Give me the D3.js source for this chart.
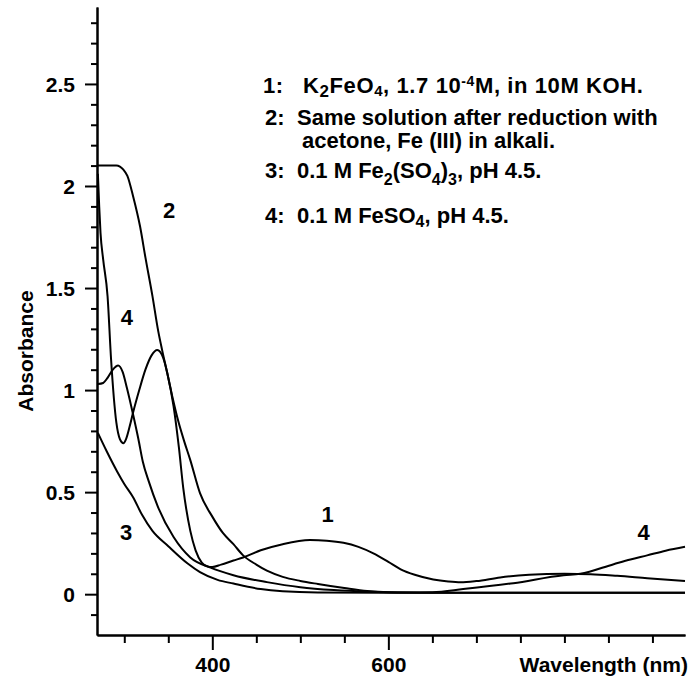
<!DOCTYPE html>
<html>
<head>
<meta charset="utf-8">
<script src="https://cdn.jsdelivr.net/npm/d3@7"></script>
<style>
  body { margin: 0; background: #fff; }
  svg text { font-family: "Liberation Sans", Arial, Helvetica, sans-serif; font-weight: bold; fill: #000; }
</style>
</head>
<body>
<svg id="chart" width="692" height="677"></svg>
<script>
// absorbance spectra, [wavelength nm, absorbance]
const k2feo4 = [
  [270, 2.06], [271.5, 1.9], [273, 1.77], [276, 1.64], [281, 1.46], [285, 1.15],
  [291, 0.84], [295, 0.76], [299, 0.74], [302, 0.76], [306, 0.82], [310, 0.89],
  [317, 1.0], [324, 1.1], [331, 1.17], [337.5, 1.196], [344, 1.16], [349, 1.08],
  [356, 0.92], [362, 0.72], [367, 0.52], [375, 0.31], [381, 0.215], [388, 0.155],
  [395, 0.135], [400, 0.133], [410, 0.145], [424, 0.165], [435, 0.18], [455, 0.215],
  [480, 0.245], [511, 0.265], [530, 0.262], [549, 0.252], [566, 0.232], [583, 0.2],
  [600, 0.158], [614, 0.122], [630, 0.095], [651, 0.072], [668, 0.062], [682, 0.058],
  [700, 0.064], [727, 0.082], [760, 0.095], [800, 0.1], [830, 0.098], [860, 0.09],
  [894, 0.078], [937, 0.064]
]
const fe3Alkali = [
  [270, 2.1], [291, 2.1], [295, 2.095], [299, 2.08], [303.5, 2.05], [310, 1.95],
  [318, 1.8], [324, 1.65], [332, 1.46], [338.5, 1.29], [343, 1.196], [349, 1.08],
  [355, 0.96], [361, 0.853], [368, 0.75], [375, 0.657], [386, 0.495], [400, 0.38],
  [412, 0.3], [424, 0.245], [435, 0.19], [450, 0.145], [462, 0.115], [480, 0.085],
  [500, 0.065], [520, 0.05], [550, 0.03], [576, 0.015], [600, 0.009], [650, 0.007],
  [937, 0.007]
]
const fe2so43 = [
  [270, 0.79], [280, 0.7], [292, 0.6], [300, 0.54], [310, 0.475], [320, 0.39],
  [332, 0.31], [350, 0.235], [372, 0.15], [386, 0.108], [406, 0.07], [424, 0.052],
  [455, 0.025], [480, 0.014], [520, 0.008], [600, 0.007], [937, 0.007]
]
const feso4 = [
  [270, 1.03], [276, 1.035], [281, 1.06], [287, 1.1], [293, 1.12], [298, 1.09],
  [303, 1.01], [310, 0.88], [316, 0.76], [321, 0.65], [328, 0.55], [338, 0.43],
  [356, 0.28], [375, 0.18], [398, 0.13], [424, 0.093], [462, 0.059], [500, 0.034],
  [538, 0.02], [576, 0.012], [620, 0.008], [650, 0.01], [685, 0.025], [742, 0.054],
  [799, 0.093], [818, 0.1], [856, 0.147], [875, 0.17], [894, 0.19], [915, 0.213],
  [937, 0.232]
]
const series = [k2feo4, fe3Alkali, fe2so43, feso4]

// curve number labels, placed in data coordinates
const curveLabels = [
  { t: '2', nm: 351, a: 1.845 },
  { t: '4', nm: 303, a: 1.319 },
  { t: '3', nm: 302, a: 0.266 },
  { t: '1', nm: 531, a: 0.354 },
  { t: '4', nm: 890, a: 0.266 }
]

const yMajor = [0, 0.5, 1, 1.5, 2, 2.5]
const yTickLabels = ['0', '0.5', '1', '1.5', '2', '2.5']
const yMinor = d3.range(-1, 29).map(i => i / 10).filter(v => !yMajor.includes(v))
const xMajor = [400, 600]
const xTickLabels = ['400', '600']
const xMinor = [300, 350, 450, 500, 550, 650, 700, 750, 800, 850, 900]

const svg = d3.select('#chart')
const x = d3.scaleLinear().domain([269, 937]).range([97, 685])
const y = d3.scaleLinear().domain([-0.2, 2.877]).range([635, 7])

// y axis
svg.append('g')
  .attr('transform', `translate(${x.range()[0]},0)`)
  .call(d3.axisLeft(y).tickValues(yMinor).tickSize(6).tickSizeOuter(0).tickFormat(''))
svg.append('g')
  .attr('transform', `translate(${x.range()[0]},0)`)
  .call(d3.axisLeft(y).tickValues(yMajor).tickSize(12).tickPadding(10).tickSizeOuter(0)
    .tickFormat((d, i) => yTickLabels[i]))
  .call(g => g.selectAll('text').attr('font-size', 21).attr('dy', '0.36em'))

// x axis
svg.append('g')
  .attr('transform', `translate(0,${y.range()[0]})`)
  .call(d3.axisBottom(x).tickValues(xMinor).tickSize(8).tickSizeOuter(0).tickFormat(''))
svg.append('g')
  .attr('transform', `translate(0,${y.range()[0]})`)
  .call(d3.axisBottom(x).tickValues(xMajor).tickSize(15).tickPadding(7).tickSizeOuter(0)
    .tickFormat((d, i) => xTickLabels[i]))
  .call(g => g.selectAll('text').attr('font-size', 21))

svg.selectAll('.domain, .tick line').attr('stroke', '#000').attr('stroke-width', 2)

svg.append('text')
  .attr('x', 688).attr('y', 672)
  .attr('text-anchor', 'end').attr('font-size', 21)
  .text('Wavelength (nm)')

svg.append('text')
  .attr('transform', 'translate(33,351) rotate(-90)')
  .attr('text-anchor', 'middle').attr('font-size', 21)
  .text('Absorbance')

// spectra
const line = d3.line()
  .x(d => x(d[0]))
  .y(d => y(d[1]))
  .curve(d3.curveMonotoneX)

svg.append('g')
  .selectAll('path')
  .data(series)
  .join('path')
  .attr('d', line)
  .attr('fill', 'none')
  .attr('stroke', '#000')
  .attr('stroke-width', 2)
  .attr('stroke-linejoin', 'round')

svg.append('g')
  .selectAll('text')
  .data(curveLabels)
  .join('text')
  .attr('x', d => x(d.nm))
  .attr('y', d => y(d.a))
  .attr('text-anchor', 'middle')
  .attr('font-size', 22)
  .text(d => d.t)

// legend with sub/superscripts
function rich(text, segs) {
  let shift = 0
  segs.forEach(s => {
    const target = s.shift || 0
    const ts = text.append('tspan').attr('dy', target - shift).text(s.t)
    if (s.size) ts.attr('font-size', s.size)
    if (s.x != null) ts.attr('x', s.x)
    shift = target
  })
}

const legend = svg.append('g').attr('font-size', 22)

rich(legend.append('text').attr('y', 93).attr('letter-spacing', 0.6), [
  { t: '1:', x: 263 },
  { t: 'K', x: 303 },
  { t: '2', size: 17, shift: 4 },
  { t: 'FeO' },
  { t: '4', size: 15, shift: 3 },
  { t: ', 1.7 10' },
  { t: '-4', size: 14, shift: -7 },
  { t: 'M, in 10M KOH.' }
])

rich(legend.append('text').attr('y', 125), [
  { t: '2:', x: 265 },
  { t: 'Same solution after reduction with', x: 297 }
])
rich(legend.append('text').attr('y', 148), [
  { t: 'acetone, Fe (III) in alkali.', x: 302 }
])

rich(legend.append('text').attr('y', 178), [
  { t: '3:', x: 265 },
  { t: '0.1 M Fe', x: 297 },
  { t: '2', size: 16, shift: 7 },
  { t: '(SO' },
  { t: '4', size: 16, shift: 7 },
  { t: ')' },
  { t: '3', size: 16, shift: 7 },
  { t: ', pH 4.5.' }
])

rich(legend.append('text').attr('y', 223), [
  { t: '4:', x: 265 },
  { t: '0.1 M FeSO', x: 297 },
  { t: '4', size: 16, shift: 4 },
  { t: ', pH 4.5.' }
])
</script>
</body>
</html>
